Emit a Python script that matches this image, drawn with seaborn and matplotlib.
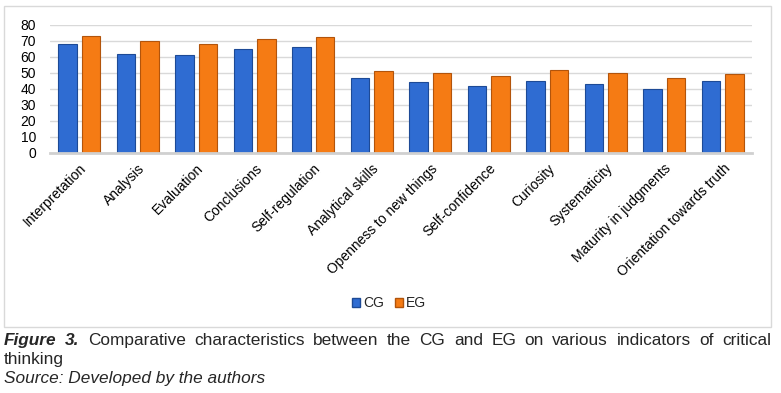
import seaborn as sns
import pandas as pd
import matplotlib.pyplot as plt
from matplotlib.patches import Rectangle

categories = ['Interpretation', 'Analysis', 'Evaluation', 'Conclusions', 'Self-regulation',
              'Analytical skills', 'Openness to new things', 'Self-confidence', 'Curiosity',
              'Systematicity', 'Maturity in judgments', 'Orientation towards truth']
cg = [68, 62, 61, 65, 66, 47, 44.5, 42, 45, 43, 40, 45]
eg = [73, 70, 68, 71, 72.5, 51, 50, 48, 52, 50, 47, 49.5]
groups = ['CG', 'EG']
colors = ['#2F6CD2', '#F57B14']
edges = ['#1D4A96', '#B2540B']

df = pd.DataFrame({
    'indicator': categories * 2,
    'value': cg + eg,
    'group': ['CG'] * len(cg) + ['EG'] * len(eg),
})

sns.set_style('white')
plt.rcParams['font.family'] = ['Liberation Sans', 'DejaVu Sans']

W, H = 781, 393
fig = plt.figure(figsize=(W / 100, H / 100), dpi=100)
ax = fig.add_axes([50 / W, 1 - 153 / H, (752 - 50) / W, (153 - 25) / H])

sns.barplot(data=df, x='indicator', y='value', hue='group', palette=colors,
            saturation=1, width=0.8, gap=0.2, ax=ax, legend=False)
for container, ec in zip(ax.containers, edges):
    for bar in container:
        bar.set_edgecolor(ec)
        bar.set_linewidth(0.8)

ax.set_ylim(0, 80)
ax.set_xlim(-0.5, len(categories) - 0.5)
ax.set_yticks(range(0, 81, 10))
ax.yaxis.grid(True, color='#D9D9D9', linewidth=1)
ax.set_axisbelow(True)
for s in ['top', 'right', 'left']:
    ax.spines[s].set_visible(False)
ax.spines['bottom'].set_color('#D0D0D0')
ax.spines['bottom'].set_linewidth(2)
ax.tick_params(axis='both', length=0, labelsize=10, colors='black')
ax.tick_params(axis='y', pad=10)
ax.tick_params(axis='x', pad=6)
ax.set_xlabel('')
ax.set_ylabel('')
for lab in ax.get_xticklabels():
    lab.set_rotation(45)
    lab.set_ha('right')
    lab.set_rotation_mode('anchor')

# legend
handles = [Rectangle((0, 0), 1, 1, facecolor=c, edgecolor=e) for c, e in zip(colors, edges)]
fig.legend(handles, groups, loc='center', bbox_to_anchor=(389 / W, 1 - 303 / H),
           ncol=2, frameon=False, fontsize=10, handlelength=0.6, handleheight=0.6,
           handletextpad=0.2, columnspacing=0.8)

# chart frame
fig.patches.append(Rectangle((4 / W, 1 - 327 / H), 767 / W, 321 / H, transform=fig.transFigure,
                             fill=False, edgecolor='#D9D9D9', linewidth=1))

# caption, first line justified
fs = 12.4
renderer = fig.canvas.get_renderer()
words = [('Figure', 'bold'), ('3.', 'bold')] + [(w, 'normal') for w in
         'Comparative characteristics between the CG and EG on various indicators of critical'.split()]
texts = []
for w, weight in words:
    t = fig.text(0, 1 - 345 / H, w, fontsize=fs, fontweight=weight,
                 fontstyle='italic' if weight == 'bold' else 'normal', va='baseline')
    texts.append(t)
widths = [t.get_window_extent(renderer).width for t in texts]
x0, x1 = 4, 771
space = (x1 - x0 - sum(widths)) / (len(texts) - 1)
x = x0
for t, w in zip(texts, widths):
    t.set_x(x / W)
    x += w + space
fig.text(4 / W, 1 - 364 / H, 'thinking', fontsize=fs, va='baseline')
fig.text(4 / W, 1 - 383 / H, 'Source: Developed by the authors', fontsize=fs,
         fontstyle='italic', va='baseline')

fig.savefig('out.png', dpi=100)
plt.close()
